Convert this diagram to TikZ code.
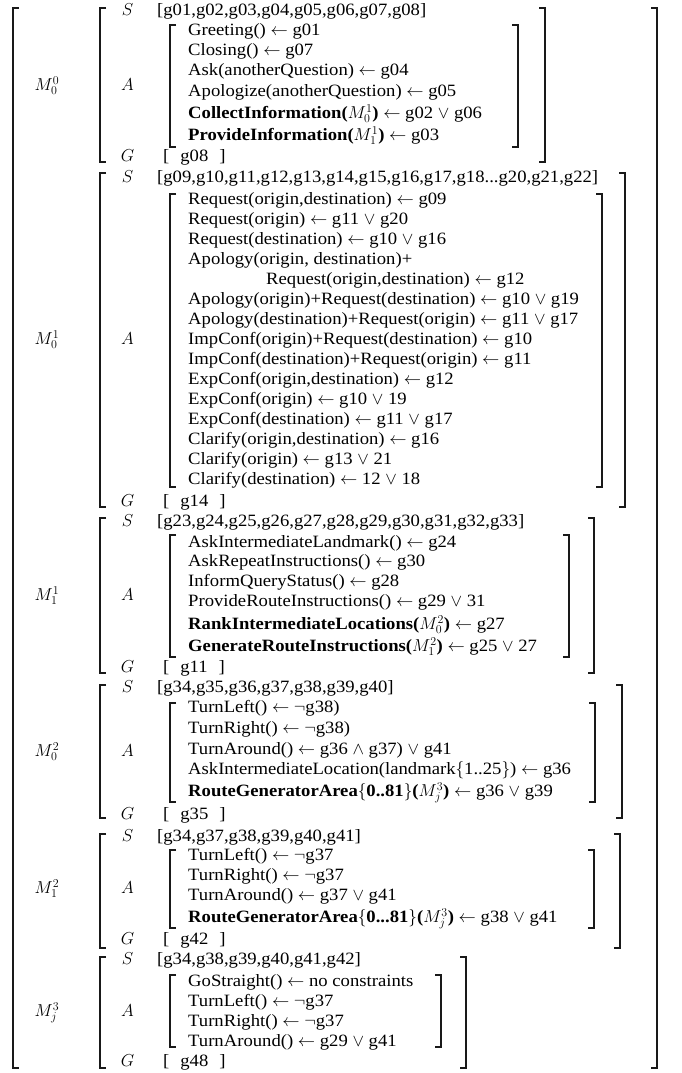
\documentclass[tikz,border=0pt]{standalone}
\usepackage{fontspec}
\setmainfont{Liberation Serif}[FakeStretch=1.08]
\DeclareMathSizes{17.28}{18.66}{13}{10.4}
\usepackage{tikz}
\usetikzlibrary{positioning}

\tikzset{
  brk/.style={line width=1.2pt, draw=black!90},
  rowtxt/.style={anchor=west, inner sep=0pt, text height=13pt, text depth=4pt},
  lab/.style={inner sep=0pt, text height=13pt, text depth=4pt},
}

\begin{document}
\begin{tikzpicture}[x=1pt, y=-1pt, font=\fontsize{17.28}{20}\selectfont]
  \useasboundingbox (0,0) rectangle (682,1073);
  % outer bracket
  \draw[brk] (19,8) -| (13,1068) -- (19,1068);
  \draw[brk] (651,8) -| (657,1068) -- (651,1068);
  % level brackets and action brackets
  \foreach \ya/\yb/\xr/\ia/\ib/\ir in {
    8/162/545/25/147/518,
    173/507/625/194/487/602,
    518/673/594/535/657/569,
    685/818/622/703/802/595,
    834/948/620/850/928/594,
    957/1068/466/975/1047/441}{
    \draw[brk] (106,\ya) -| (100,\yb) -- (106,\yb);
    \draw[brk] (\xr-6,\ya) -| (\xr,\yb) -- (\xr-6,\yb);
    \draw[brk] (176,\ia) -| (170,\ib) -- (176,\ib);
    \draw[brk] (\ir-6,\ia) -| (\ir,\ib) -- (\ir-6,\ib);
  }
  % machine names, S / A / G rows
  \foreach \sy/\ay/\gy/\lab/\slist/\goal [count=\b] in {
    11/86/157/{M^0_0}/{[g01,g02,g03,g04,g05,g06,g07,g08]}/g08,
    178/340/502/{M^1_0}/{[g09,g10,g11,g12,g13,g14,g15,g16,g17,g18...g20,g21,g22]}/g14,
    522/596/668/{M^1_1}/{[g23,g24,g25,g26,g27,g28,g29,g30,g31,g32,g33]}/g11,
    688/752/815/{M^2_0}/{[g34,g35,g36,g37,g38,g39,g40]}/g35,
    837/889/940/{M^2_1}/{[g34,g37,g38,g39,g40,g41]}/g42,
    960/1012/1062/{M^3_j}/{[g34,g38,g39,g40,g41,g42]}/g48}{
    \node[lab] (m\b) at (47,\ay) {$\lab$};
    \node[lab] (s\b) at (127.5,\sy) {$S$};
    \node[lab] (a\b) at (127.5,\ay) {$A$};
    \node[lab] (g\b) at (127.5,\gy) {$G$};
    \node[rowtxt] (slist\b) at (157,\sy) {\slist};
    \node[rowtxt] (goal\b) at (163,\gy) {[\hspace{11pt}\goal\hspace{11pt}]};
  }
  % actions
  \foreach \y/\x/\txt [count=\i] in {
    31/188/{Greeting() $\leftarrow$ g01},
    51/188/{Closing() $\leftarrow$ g07},
    71/188/{Ask(anotherQuestion) $\leftarrow$ g04},
    92/188/{Apologize(anotherQuestion) $\leftarrow$ g05},
    114/188/{\textbf{CollectInformation(}$M^1_0$\textbf{)} $\leftarrow$ g02 $\vee$ g06},
    136/188/{\textbf{ProvideInformation(}$M^1_1$\textbf{)} $\leftarrow$ g03},
    200/188/{Request(origin,destination) $\leftarrow$ g09},
    220/188/{Request(origin) $\leftarrow$ g11 $\vee$ g20},
    240/188/{Request(destination) $\leftarrow$ g10 $\vee$ g16},
    260/188/{Apology(origin, destination)+},
    280/266/{Request(origin,destination) $\leftarrow$ g12},
    300/188/{Apology(origin)+Request(destination) $\leftarrow$ g10 $\vee$ g19},
    320/188/{Apology(destination)+Request(origin) $\leftarrow$ g11 $\vee$ g17},
    340/188/{ImpConf(origin)+Request(destination) $\leftarrow$ g10},
    360/188/{ImpConf(destination)+Request(origin) $\leftarrow$ g11},
    380/188/{ExpConf(origin,destination) $\leftarrow$ g12},
    400/188/{ExpConf(origin) $\leftarrow$ g10 $\vee$ 19},
    420/188/{ExpConf(destination) $\leftarrow$ g11 $\vee$ g17},
    440/188/{Clarify(origin,destination) $\leftarrow$ g16},
    460/188/{Clarify(origin) $\leftarrow$ g13 $\vee$ 21},
    480/188/{Clarify(destination) $\leftarrow$ 12 $\vee$ 18},
    543/188/{AskIntermediateLandmark() $\leftarrow$ g24},
    562/188/{AskRepeatInstructions() $\leftarrow$ g30},
    582/188/{InformQueryStatus() $\leftarrow$ g28},
    602/188/{ProvideRouteInstructions() $\leftarrow$ g29 $\vee$ 31},
    625/188/{\textbf{RankIntermediateLocations(}$M^2_0$\textbf{)} $\leftarrow$ g27},
    647/188/{\textbf{GenerateRouteInstructions(}$M^2_1$\textbf{)} $\leftarrow$ g25 $\vee$ 27},
    708/188/{TurnLeft() $\leftarrow$ $\neg$g38)},
    729/188/{TurnRight() $\leftarrow$ $\neg$g38)},
    750/188/{TurnAround() $\leftarrow$ g36 $\wedge$ g37) $\vee$ g41},
    770/188/{AskIntermediateLocation(landmark$\{$1..25$\}$) $\leftarrow$ g36},
    792/188/{\textbf{RouteGeneratorArea}$\{$\textbf{0..81}$\}$\textbf{(}$M^3_j$\textbf{)} $\leftarrow$ g36 $\vee$ g39},
    856/188/{TurnLeft() $\leftarrow$ $\neg$g37},
    876/188/{TurnRight() $\leftarrow$ $\neg$g37},
    896/188/{TurnAround() $\leftarrow$ g37 $\vee$ g41},
    918/188/{\textbf{RouteGeneratorArea}$\{$\textbf{0...81}$\}$\textbf{(}$M^3_j$\textbf{)} $\leftarrow$ g38 $\vee$ g41},
    982/188/{GoStraight() $\leftarrow$ no constraints},
    1002/188/{TurnLeft() $\leftarrow$ $\neg$g37},
    1022/188/{TurnRight() $\leftarrow$ $\neg$g37},
    1042/188/{TurnAround() $\leftarrow$ g29 $\vee$ g41}}{
    \node[rowtxt] (act\i) at (\x,\y) {\txt};
  }
\end{tikzpicture}
\end{document}
